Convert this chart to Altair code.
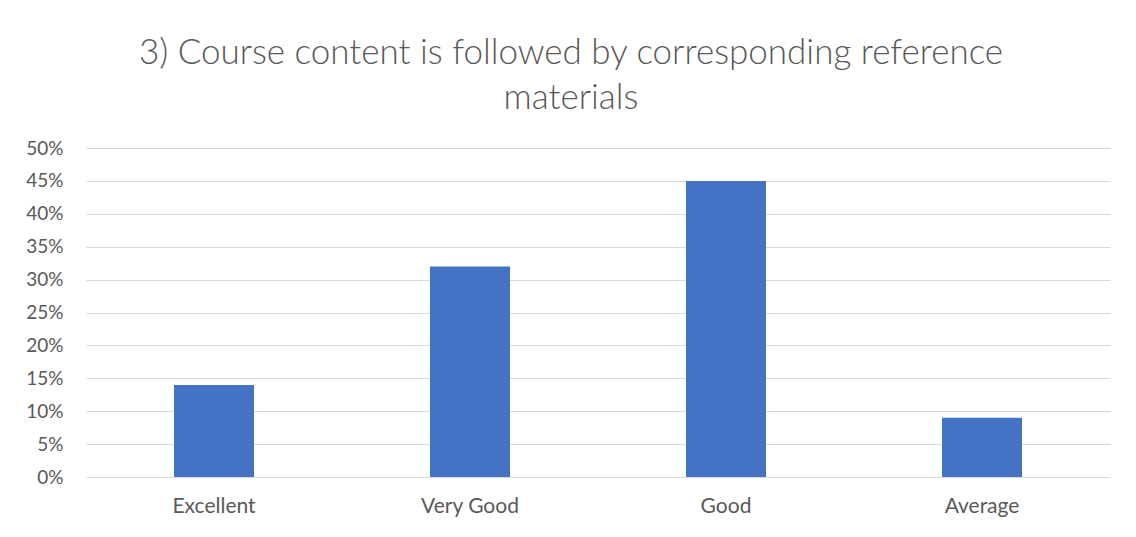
import altair as alt
import pandas as pd

categories = ["Excellent", "Very Good", "Good", "Average"]
percents = [14, 32, 45, 9]
y_ticks = [0, 5, 10, 15, 20, 25, 30, 35, 40, 45, 50]
title_lines = ["3) Course content is followed by corresponding reference", "materials"]

df = pd.DataFrame({"category": categories, "percent": percents})

FONT = "Lato"
GREY = "#595959"

chart = (
    alt.Chart(df)
    .mark_bar(color="#4472C4")
    .encode(
        x=alt.X(
            "category:N",
            sort=categories,
            scale=alt.Scale(paddingInner=0.6875, paddingOuter=0.34375),
            axis=alt.Axis(
                title=None, labelAngle=0, domain=False, ticks=False,
                labelFont=FONT, labelFontSize=21, labelColor=GREY, labelPadding=18,
            ),
        ),
        y=alt.Y(
            "percent:Q",
            scale=alt.Scale(domain=[0, 50], nice=False),
            axis=alt.Axis(
                title=None, values=y_ticks, labelExpr="datum.value + '%'",
                domain=False, ticks=False, gridColor="#d9d9d9", gridWidth=1,
                labelFont=FONT, labelFontSize=19, labelColor=GREY, labelPadding=23,
            ),
        ),
    )
    .properties(
        width=1024,
        height=329,
        autosize=alt.AutoSizeParams(type="none"),
        padding={"left": 78, "top": 140, "right": 18, "bottom": 52},
        title=alt.TitleParams(
            text=title_lines, font=FONT, fontSize=35, fontWeight=300, color=GREY,
            anchor="middle", frame="group", dx=-27, offset=23, lineHeight=45,
        ),
    )
    .configure_view(stroke=None)
)

chart.save("out.html", embed_options={"renderer": "svg", "actions": False})
